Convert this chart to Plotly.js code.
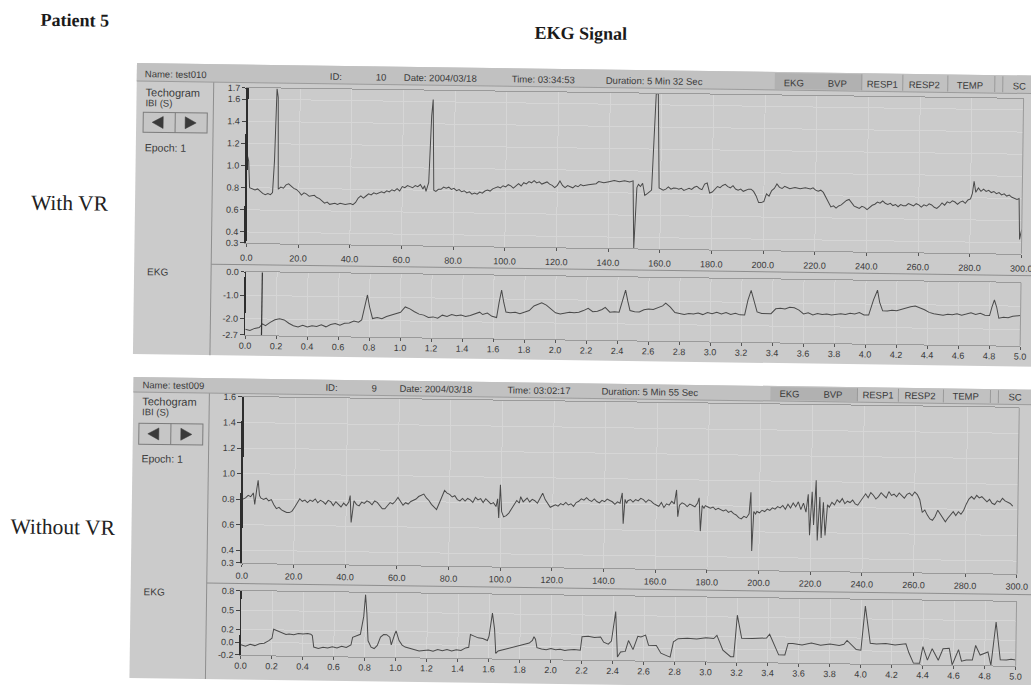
<!DOCTYPE html>
<html><head><meta charset="utf-8">
<script src="https://cdn.plot.ly/plotly-3.0.1.min.js"></script>
<style>
html,body{margin:0;padding:0;background:#fff;overflow:hidden;width:1031px;height:685px;}
#chart{position:absolute;left:0;top:0;width:1060px;height:700px;transform:rotate(0.8deg);transform-origin:130px 63px;}
</style></head>
<body><div id="chart"></div>
<script>
// ---------- DATA ----------
// Tachogram (IBI, seconds) - With VR
const tach1Time = [0,0.4,0.9,2,3,4,5,6,7,8,
9,9.8,10.4,11,11.5,12,13,14,15,16,
17,18,19,20,21,22,23,24,26,27,
28,29,30,31,32,34,35,36,38,40,
41,42,43,44,45,46,47,48,49,50,
52,53,54,55,56,57,58,59,60,61,
62,63,64,65,66,67,68,68.6,69.2,70.2,
71,71.5,72.2,73,74,75,76,77,78,79,
80,81,82,83,84,85,86,87,88,89,
90,91,92,93,94,95,96,97,98,99,
100,101,102,103,104,105,106,107,108,109,
110,111,112,113,114,115,116,117,118,119,
120,121,122,123,124,125,126,127,128,129,
130,132,134,135,136,138,140,142,144,146,
148,149.3,149.9,150.8,151.4,152.2,153,153.9,155,156.5,
157.8,158.6,159.4,160,161,162,163,164,165,166,
167,168,169,170,171,172,173,174,175,176,
177,178,179,180,181,182,183,184,185,186,
187,188,189,190,191,192,193,194,195,196,
197,198,199,200,201,202,203,204,205,206,
207,208,209,210,212,214,216,218,219,220,
221,222,223,224,225,226,227,228,229,230,
231,232,233,234,235,236,237,238,239,240,
241,242,243,244,245,246,247,248,249,250,
251,252,253,254,255,256,257,258,259,260,
261,262,263,264,265,266,267,268,269,270,
271,272,273,274,275,276,277,278,279,280,
280.7,281.3,282,283,284,285,286,287,288,289,
290,291,292,293,294,295,296,297,298,
298.8,299.2,299.6,300];
const tach1IBI = [1.08,1.04,0.80,0.79,0.78,0.79,0.77,0.75,0.74,0.75,
0.74,0.76,1.05,1.70,1.62,0.79,0.81,0.80,0.83,0.84,
0.82,0.80,0.79,0.77,0.74,0.76,0.75,0.73,0.74,0.72,
0.71,0.69,0.67,0.68,0.66,0.67,0.66,0.67,0.66,0.67,
0.66,0.68,0.72,0.74,0.72,0.74,0.76,0.75,0.77,0.76,
0.78,0.77,0.79,0.78,0.80,0.79,0.81,0.79,0.83,0.82,
0.84,0.83,0.82,0.84,0.83,0.85,0.81,0.84,0.79,0.87,
1.47,1.62,0.80,0.79,0.81,0.81,0.83,0.82,0.83,0.81,
0.82,0.80,0.81,0.79,0.80,0.78,0.79,0.77,0.78,0.77,
0.79,0.78,0.80,0.81,0.80,0.82,0.83,0.84,0.83,0.85,
0.84,0.86,0.85,0.83,0.85,0.87,0.85,0.88,0.87,0.89,
0.88,0.90,0.88,0.89,0.87,0.88,0.89,0.87,0.86,0.84,
0.86,0.90,0.86,0.84,0.86,0.85,0.84,0.86,0.85,0.87,
0.86,0.87,0.88,0.88,0.90,0.89,0.90,0.91,0.90,0.91,
0.90,0.91,0.30,0.85,0.88,0.86,0.89,0.78,0.80,0.83,
1.70,1.70,0.85,0.84,0.83,0.84,0.86,0.84,0.85,0.85,
0.84,0.85,0.83,0.84,0.85,0.84,0.86,0.87,0.85,0.84,
0.89,0.90,0.81,0.82,0.85,0.87,0.86,0.88,0.89,0.87,
0.86,0.88,0.85,0.84,0.85,0.83,0.84,0.85,0.85,0.83,
0.79,0.73,0.73,0.74,0.81,0.79,0.84,0.86,0.90,0.87,
0.86,0.88,0.87,0.86,0.87,0.86,0.87,0.86,0.87,0.85,
0.84,0.85,0.83,0.79,0.75,0.70,0.71,0.69,0.71,0.72,
0.74,0.76,0.77,0.74,0.71,0.70,0.69,0.71,0.70,0.68,
0.70,0.72,0.73,0.75,0.74,0.76,0.74,0.73,0.74,0.72,
0.73,0.71,0.73,0.72,0.72,0.74,0.73,0.72,0.74,0.73,
0.71,0.73,0.72,0.74,0.73,0.71,0.70,0.72,0.75,0.73,
0.76,0.75,0.77,0.76,0.74,0.76,0.77,0.75,0.78,0.79,
0.84,0.95,0.85,0.89,0.86,0.88,0.86,0.87,0.85,0.86,
0.84,0.85,0.83,0.84,0.82,0.83,0.81,0.80,0.79,
0.80,0.43,0.48,0.52];

// EKG - With VR
const ekg1Time = [0,0.03,0.06,0.09,0.11,0.13,0.16,0.19,0.22,0.25,
0.28,0.31,0.34,0.37,0.40,0.43,0.46,0.49,0.52,0.55,
0.58,0.61,0.64,0.67,0.70,0.73,0.75,0.77,0.785,0.80,
0.82,0.85,0.88,0.91,0.94,0.97,1.00,1.03,1.06,1.09,
1.12,1.15,1.18,1.21,1.24,1.27,1.30,1.33,1.36,1.39,
1.42,1.45,1.48,1.51,1.53,1.56,1.59,1.62,1.635,1.65,
1.665,1.68,1.71,1.74,1.77,1.80,1.83,1.86,1.89,1.91,
1.94,1.97,2.00,2.03,2.06,2.09,2.12,2.15,2.18,2.21,
2.24,2.27,2.30,2.32,2.35,2.38,2.41,2.435,2.45,2.465,
2.48,2.51,2.54,2.57,2.60,2.63,2.66,2.69,2.71,2.74,
2.77,2.80,2.83,2.86,2.89,2.92,2.95,2.98,3.01,3.04,
3.07,3.10,3.13,3.16,3.19,3.22,3.24,3.26,3.28,3.30,
3.33,3.36,3.39,3.42,3.45,3.48,3.51,3.54,3.57,3.60,
3.63,3.66,3.69,3.72,3.75,3.78,3.81,3.84,3.87,3.90,
3.93,3.96,3.99,4.02,4.05,4.075,4.09,4.11,4.14,4.17,
4.20,4.23,4.26,4.29,4.32,4.35,4.38,4.41,4.44,4.47,
4.50,4.53,4.56,4.59,4.62,4.65,4.68,4.71,4.74,4.77,
4.80,4.815,4.83,4.845,4.86,4.89,4.92,4.95,4.98,5.00];
const ekg1Value = [-2.45,-2.50,-2.41,-2.37,-2.21,-2.29,-2.14,-2.03,-1.98,-2.03,
-2.17,-2.27,-2.32,-2.25,-2.32,-2.26,-2.29,-2.22,-2.30,-2.20,
-2.15,-2.22,-2.14,-2.12,-2.03,-2.08,-1.98,-1.33,-0.91,-1.43,
-1.92,-1.87,-1.92,-1.82,-1.76,-1.71,-1.63,-1.40,-1.48,-1.60,
-1.70,-1.74,-1.84,-1.81,-1.86,-1.73,-1.78,-1.70,-1.75,-1.71,
-1.77,-1.73,-1.64,-1.58,-1.68,-1.61,-1.75,-1.80,-1.15,-0.62,
-1.15,-1.56,-1.59,-1.56,-1.62,-1.56,-1.48,-1.28,-1.20,-1.14,
-1.24,-1.42,-1.56,-1.61,-1.57,-1.53,-1.55,-1.52,-1.45,-1.35,
-1.49,-1.47,-1.39,-1.30,-1.50,-1.48,-1.50,-0.97,-0.55,-1.02,
-1.42,-1.47,-1.48,-1.38,-1.34,-1.36,-1.27,-1.20,-1.08,-1.25,
-1.48,-1.53,-1.56,-1.51,-1.53,-1.49,-1.55,-1.46,-1.51,-1.44,
-1.51,-1.45,-1.53,-1.47,-1.54,-1.54,-0.90,-0.48,-0.99,-1.40,
-1.47,-1.47,-1.47,-1.26,-1.23,-1.26,-1.18,-1.20,-1.30,-1.46,
-1.41,-1.50,-1.44,-1.47,-1.45,-1.49,-1.46,-1.43,-1.46,-1.40,
-1.43,-1.37,-1.47,-1.47,-0.82,-0.40,-0.92,-1.28,-1.29,-1.25,
-1.27,-1.20,-1.16,-1.09,-1.06,-1.12,-1.21,-1.32,-1.38,-1.40,
-1.43,-1.39,-1.41,-1.36,-1.42,-1.37,-1.31,-1.38,-1.33,-1.41,
-1.42,-1.05,-0.75,-1.05,-1.53,-1.48,-1.50,-1.44,-1.42,-1.40];
const ekg1Cursor = [0.105];

// Tachogram (IBI, seconds) - Without VR
const tach2Time = [0,1,2,3,4,4.6,5.3,5.8,6.4,7,
8,9,10,11,12,13,14,15,16,17,
18,19,20,21,22,23,24,25,26,27,
28,29,30,31,32,33,34,35,36,37,
38,39,40,41,41.5,42,42.6,43,44,45,
46,47,48,49,50,51,52,53,54,55,
56,57,58,59,60,61,62,63,64,65,
66,67,68,69,70,71,72,73,74,75,
76,77,78,79,80,81,82,83,84,85,
86,87,88,89,90,91,92,93,94,95,
96,97,98,98.6,99.1,99.6,100.2,101,102,103,
104,105,106,107,107.5,108.5,109,110,111,112,
113,114,115,116,117,118,119,120,121,122,
123,124,125,126,127,128,129,130,131,132,
133,134,135,136,137,138,139,140,141,142,
143,144,145,146,146.8,147.3,147.9,148.5,149,150,
151,152,153,154,155,156,157,158,159,160,
161,162,163,164,165,166,167,167.8,168.4,169,
170,171,172,173,174,175,176,176.6,177.2,177.8,
178.5,179,180,181,182,183,184,185,186,187,
188,189,190,191,192,193,194,195,196,196.6,
197.2,197.8,198.5,199,200,201,202,203,204,205,
206,207,208,209,210,211,212,213,214,215,
216,217,218,218.8,219.5,220.3,221,221.8,222.5,223.3,
224,224.7,225.5,226.3,227,228,229,230,231,232,
233,234,235,236,237,238,239,240,241,242,
243,244,245,246,247,248,249,250,251,252,
253,254,255,256,257,258,259,260,261,262,
263,264,265,266,267,268,269,270,271,272,
273,274,275,276,277,278,279,280,281,282,
283,284,285,286,287,288,289,290,291,292,
293,294,295,296,297,298];
const tach2IBI = [0.80,0.81,0.83,0.82,0.85,0.76,0.88,0.95,0.83,0.81,
0.80,0.81,0.79,0.80,0.76,0.73,0.74,0.72,0.71,0.70,
0.70,0.71,0.74,0.77,0.81,0.79,0.80,0.78,0.80,0.79,
0.81,0.78,0.80,0.79,0.77,0.80,0.79,0.76,0.79,0.77,
0.75,0.78,0.76,0.79,0.84,0.63,0.75,0.80,0.77,0.76,
0.79,0.78,0.80,0.79,0.77,0.80,0.79,0.76,0.74,0.74,
0.77,0.79,0.78,0.80,0.83,0.80,0.77,0.79,0.78,0.80,
0.81,0.82,0.84,0.85,0.86,0.83,0.81,0.78,0.76,0.74,
0.79,0.84,0.89,0.87,0.86,0.84,0.85,0.82,0.81,0.83,
0.81,0.83,0.82,0.80,0.84,0.82,0.83,0.80,0.83,0.81,
0.79,0.80,0.77,0.83,0.68,0.94,0.73,0.69,0.70,0.72,
0.75,0.78,0.82,0.80,0.85,0.81,0.82,0.84,0.81,0.83,
0.82,0.80,0.84,0.88,0.83,0.80,0.77,0.78,0.79,0.78,
0.80,0.79,0.81,0.79,0.80,0.78,0.81,0.82,0.84,0.83,
0.85,0.83,0.82,0.84,0.82,0.81,0.83,0.82,0.84,0.83,
0.82,0.80,0.82,0.81,0.89,0.65,0.84,0.81,0.83,0.84,
0.82,0.84,0.83,0.85,0.84,0.82,0.84,0.83,0.81,0.80,
0.79,0.82,0.78,0.81,0.80,0.83,0.81,0.92,0.71,0.80,
0.82,0.81,0.79,0.81,0.80,0.79,0.82,0.86,0.60,0.80,
0.78,0.80,0.79,0.78,0.79,0.77,0.78,0.77,0.76,0.77,
0.75,0.76,0.74,0.73,0.71,0.70,0.72,0.71,0.74,0.91,
0.45,0.76,0.74,0.76,0.75,0.77,0.76,0.78,0.77,0.79,
0.78,0.80,0.79,0.81,0.78,0.82,0.79,0.83,0.80,0.84,
0.78,0.83,0.76,0.90,0.58,0.92,0.66,1.01,0.54,0.88,
0.56,0.84,0.58,0.82,0.80,0.84,0.82,0.86,0.84,0.87,
0.83,0.85,0.84,0.86,0.83,0.82,0.85,0.89,0.91,0.88,
0.92,0.90,0.87,0.89,0.92,0.90,0.88,0.93,0.90,0.91,
0.89,0.92,0.90,0.88,0.91,0.92,0.90,0.93,0.91,0.87,
0.77,0.79,0.75,0.72,0.71,0.74,0.79,0.76,0.72,0.70,
0.73,0.76,0.78,0.75,0.78,0.76,0.79,0.84,0.88,0.90,
0.88,0.91,0.89,0.90,0.88,0.86,0.88,0.85,0.84,0.87,
0.86,0.89,0.87,0.86,0.85,0.83];

// EKG - Without VR
const ekg2Time = [0,0.03,0.06,0.09,0.12,0.15,0.18,0.20,0.21,0.23,
0.25,0.27,0.29,0.31,0.34,0.37,0.40,0.43,0.45,0.46,
0.47,0.50,0.53,0.56,0.59,0.62,0.65,0.68,0.71,0.72,
0.75,0.77,0.79,0.80,0.81,0.82,0.84,0.86,0.88,0.90,
0.92,0.94,0.96,0.97,0.99,1.00,1.02,1.04,1.06,1.09,
1.12,1.15,1.18,1.21,1.24,1.27,1.30,1.33,1.36,1.39,
1.42,1.45,1.47,1.48,1.50,1.53,1.56,1.59,1.60,1.62,
1.635,1.645,1.66,1.69,1.72,1.75,1.78,1.81,1.84,1.86,
1.88,1.89,1.90,1.91,1.94,1.97,2.00,2.03,2.06,2.09,
2.11,2.15,2.19,2.20,2.24,2.28,2.32,2.34,2.37,2.39,
2.415,2.43,2.45,2.48,2.50,2.53,2.56,2.58,2.61,2.63,
2.68,2.71,2.75,2.77,2.79,2.82,2.88,2.94,3.00,3.05,
3.07,3.11,3.16,3.18,3.20,3.23,3.30,3.39,3.41,3.47,
3.51,3.53,3.56,3.62,3.68,3.74,3.80,3.86,3.89,3.91,
3.97,4.00,4.025,4.06,4.10,4.16,4.22,4.29,4.31,4.34,
4.38,4.40,4.43,4.46,4.50,4.53,4.57,4.59,4.63,4.65,
4.68,4.72,4.74,4.77,4.82,4.84,4.87,4.90,4.94,4.97,5.00];
const ekg2Value = [-0.04,-0.06,-0.03,-0.05,-0.02,-0.01,0.03,0.07,0.21,0.19,
0.17,0.15,0.13,0.14,0.13,0.15,0.14,0.15,0.14,0.12,
-0.06,-0.08,-0.06,-0.07,-0.05,-0.07,-0.04,-0.06,-0.02,0.10,
0.13,0.15,0.43,0.77,0.48,0.05,-0.05,-0.07,-0.02,0.11,
0.15,0.15,0.11,-0.01,0.15,0.21,0.06,-0.01,-0.04,-0.06,
-0.09,-0.10,-0.09,-0.08,-0.10,-0.07,-0.09,-0.07,-0.09,-0.07,
-0.08,-0.04,-0.03,0.17,0.15,0.12,0.11,0.08,0.15,0.51,
0.26,-0.12,-0.08,-0.06,-0.04,-0.02,-0.01,0.01,0.03,0.05,
0.09,0.15,0.11,-0.02,-0.04,-0.05,-0.03,-0.05,-0.04,-0.06,
-0.05,-0.04,-0.05,0.16,0.17,0.15,0.16,0.08,0.05,0.10,
0.56,-0.15,-0.07,-0.06,0.11,-0.03,0.18,0.17,0.20,0.04,
0.04,-0.08,-0.12,-0.14,0.10,0.15,0.16,0.15,0.17,0.16,
0.21,-0.02,-0.12,-0.12,0.53,0.17,0.17,0.18,0.24,-0.08,
-0.08,0.10,0.10,0.08,0.11,0.08,0.10,0.08,0.10,0.16,
0.02,0.01,0.70,0.12,0.11,0.12,0.10,0.12,-0.02,-0.18,
-0.18,0.08,-0.13,0.05,-0.13,0.05,0.06,-0.20,0.04,-0.14,
-0.12,-0.12,0.11,-0.04,0.01,-0.20,0.48,-0.11,-0.11,-0.10,-0.11];

// Axis ranges and tick values
const tachRange = [0, 300];
const ekgRange = [0, 5];
const tach1YRange = [0.3, 1.7];
const ekg1YRange = [-2.7, 0];
const tach2YRange = [0.3, 1.6];
const ekg2YRange = [-0.2, 0.8];
const tachXTicks = [0,20,40,60,80,100,120,140,160,180,200,220,240,260,280,300];
const ekgXTicks = [0,0.2,0.4,0.6,0.8,1.0,1.2,1.4,1.6,1.8,2.0,2.2,2.4,2.6,2.8,3.0,3.2,3.4,3.6,3.8,4.0,4.2,4.4,4.6,4.8,5.0];
const tach1YTicks = [0.3,0.4,0.6,0.8,1.0,1.2,1.4,1.6,1.7];
const ekg1YTicks = [-2.7,-2.0,-1.0,0.0];
const tach2YTicks = [0.3,0.4,0.6,0.8,1.0,1.2,1.4,1.6];
const ekg2YTicks = [-0.2,0.0,0.2,0.5,0.8];

// ---------- LAYOUT HELPERS ----------
const W = 1060, H = 700;
const X = v => v / W;
const Y = v => 1 - v / H;
const SANS = 'Liberation Sans, Arial, sans-serif';
const SERIF = 'Liberation Serif, Times New Roman, serif';
const tickFont = {family: SANS, size: 9, color: '#3a3a3a'};
const LINE = '#4a4a4a';

function fmt(v){ return v.toFixed(1); }
function axX(d, range, ticks, anchor, standoff){
  return {domain: d, range: range, anchor: anchor, tickmode: 'array', tickvals: ticks, ticktext: ticks.map(fmt),
    ticks: 'outside', ticklen: 3, tickcolor: '#555', tickfont: tickFont, ticklabelstandoff: standoff,
    showgrid: true, gridcolor: '#d6d6d6', gridwidth: 1, showline: true, linecolor: '#9a9a9a', linewidth: 1,
    mirror: true, zeroline: false, fixedrange: true};
}
function axY(d, range, ticks, anchor, lw){
  return {domain: d, range: range, anchor: anchor, tickmode: 'array', tickvals: ticks, ticktext: ticks.map(fmt),
    ticks: 'outside', ticklen: 4, tickcolor: '#444', tickfont: tickFont,
    showgrid: true, gridcolor: '#d6d6d6', gridwidth: 1, showline: true, linecolor: '#2e2e2e', linewidth: lw,
    zeroline: false, fixedrange: true};
}
function rect(x0,y0,x1,y1,fill,line,layer){
  return {type:'rect', xref:'paper', yref:'paper', x0:X(x0), x1:X(x1), y0:Y(y1), y1:Y(y0),
    fillcolor: fill || 'rgba(0,0,0,0)', line:{color: line || 'rgba(0,0,0,0)', width: line ? 1 : 0}, layer: layer || 'below'};
}
function seg(x0,y0,x1,y1,color,w,layer){
  return {type:'line', xref:'paper', yref:'paper', x0:X(x0), x1:X(x1), y0:Y(y0), y1:Y(y1),
    line:{color: color, width: w || 1}, layer: layer || 'below'};
}
function tri(pts, fill){
  return {type:'path', xref:'paper', yref:'paper', layer:'above',
    path: 'M ' + pts.map(p => X(p[0]).toFixed(5) + ',' + Y(p[1]).toFixed(5)).join(' L ') + ' Z',
    fillcolor: fill, line:{color: fill, width: 0.5}};
}
function txt(x, y, s, size, opt){
  opt = opt || {};
  return {xref:'paper', yref:'paper', x: X(x), y: Y(y), text: s, showarrow: false,
    xanchor: opt.xa || 'left', yanchor: 'middle',
    font: {family: opt.fam || SANS, size: size, color: opt.color || '#3a3a3a'}};
}

// Plot-area pixel geometry (unrotated frame)
const PX0 = 249, PX1 = 1024;
const t1 = [86.4, 241.4], e1 = [270.4, 333.4], t2 = [395.4, 561.4], e2 = [589.4, 653.4];
const dX = [X(PX0), X(PX1)];

const traces = [
  {x: tach1Time, y: tach1IBI, xaxis:'x', yaxis:'y', mode:'lines', line:{color: LINE, width: 1}, hoverinfo:'skip'},
  {x: ekg1Time, y: ekg1Value, xaxis:'x2', yaxis:'y2', mode:'lines', line:{color: LINE, width: 1}, hoverinfo:'skip'},
  {x: tach2Time, y: tach2IBI, xaxis:'x3', yaxis:'y3', mode:'lines', line:{color: LINE, width: 1}, hoverinfo:'skip'},
  {x: ekg2Time, y: ekg2Value, xaxis:'x4', yaxis:'y4', mode:'lines', line:{color: LINE, width: 1}, hoverinfo:'skip'}
];

const shapes = [];
// panels
function panel(top, bottom, left, header, frameTop, ekgTop, box, tabY){
  shapes.push(rect(left, top, 1060, bottom, '#cbcbcb'));
  shapes.push(rect(left, top, 1060, header, '#c1c1c1'));
  shapes.push(seg(left, header, 1060, header, '#9c9c9c'));
  shapes.push(rect(775, tabY[0], 862, tabY[1], '#b1b1b1'));
  [862, 903, 948, 995, 1003].forEach(x => shapes.push(seg(x, tabY[0], x, tabY[1], '#9a9a9a')));
  shapes.push(seg(214, frameTop, 214, bottom, '#8e8e8e'));
  shapes.push(seg(214, ekgTop, 1060, ekgTop, '#8e8e8e'));
  shapes.push(rect(144, box[0], 208, box[1], '#c6c6c6', '#7c7c7c'));
  shapes.push(seg(176, box[0], 176, box[1], '#7c7c7c'));
  const m = (box[0] + box[1]) / 2;
  shapes.push(tri([[164, m-6], [153, m], [164, m+6]], '#3a3a3a'));
  shapes.push(tri([[186, m-6], [197, m], [186, m+6]], '#3a3a3a'));
}
panel(63, 354, 137, 81, 81, 263, [112, 132], [64, 80]);
panel(377, 678, 138, 392, 392, 582, [423, 444], [378, 391]);
// right borders of plot areas
[t1, e1, t2, e2].forEach(r => shapes.push(seg(PX1, r[0], PX1, r[1], '#9a9a9a', 1, 'above')));
// EKG cursor line
ekg1Cursor.forEach(c => shapes.push({type:'line', xref:'x2', yref:'y2', x0:c, x1:c, y0:ekg1YRange[0], y1:ekg1YRange[1], line:{color:'#333', width:1.2}, layer:'above'}));

const annotations = [
  txt(74, 21, '<b>Patient 5</b>', 18, {fam: SERIF, xa:'center', color:'#1a1a1a'}),
  txt(580, 27, '<b>EKG Signal</b>', 18, {fam: SERIF, xa:'center', color:'#1a1a1a'}),
  txt(72, 204, 'With VR', 21.5, {fam: SERIF, xa:'center', color:'#222'}),
  txt(69.5, 528, 'Without VR', 21.5, {fam: SERIF, xa:'center', color:'#222'})
];
function headerTexts(y, name, id, date, time, dur, x0){
  annotations.push(txt(x0, y, name, 9.5));
  annotations.push(txt(328, y, 'ID:', 9.5));
  annotations.push(txt(374, y, id, 9.5));
  annotations.push(txt(402, y, date, 9.5));
  annotations.push(txt(510, y, time, 9.5));
  annotations.push(txt(604, y, dur, 9.5));
  [['EKG',782],['BVP',826],['RESP1',865],['RESP2',907],['TEMP',955],['SC',1011]].forEach(t =>
    annotations.push(txt(t[1], y, t[0], 9.5)));
}
headerTexts(73.5, 'Name: test010', '10', 'Date: 2004/03/18', 'Time: 03:34:53', 'Duration: 5 Min 32 Sec', 143);
headerTexts(384, 'Name: test009', '9', 'Date: 2004/03/18', 'Time: 03:02:17', 'Duration: 5 Min 55 Sec', 145);
function sideTexts(x, yT, yI, yE, yK){
  annotations.push(txt(x, yT, 'Techogram', 11));
  annotations.push(txt(x, yI, 'IBI (S)', 9.5));
  annotations.push(txt(x, yE, 'Epoch: 1', 10.5));
  annotations.push(txt(x + 4, yK, 'EKG', 10));
}
sideTexts(143.5, 92, 102.5, 147, 271);
sideTexts(145, 401, 412, 458, 591);

const layout = {
  width: W, height: H, margin: {l:0, r:0, t:0, b:0},
  paper_bgcolor: '#ffffff', plot_bgcolor: '#ffffff', showlegend: false,
  font: {family: SANS},
  xaxis:  axX(dX, tachRange, tachXTicks, 'y', 3),
  yaxis:  axY([Y(t1[1]), Y(t1[0])], tach1YRange, tach1YTicks, 'x', 2.5),
  xaxis2: axX(dX, ekgRange, ekgXTicks, 'y2', -1),
  yaxis2: axY([Y(e1[1]), Y(e1[0])], ekg1YRange, ekg1YTicks, 'x2', 1.5),
  xaxis3: axX(dX, tachRange, tachXTicks, 'y3', 1),
  yaxis3: axY([Y(t2[1]), Y(t2[0])], tach2YRange, tach2YTicks, 'x3', 2.5),
  xaxis4: axX(dX, ekgRange, ekgXTicks, 'y4', -1),
  yaxis4: axY([Y(e2[1]), Y(e2[0])], ekg2YRange, ekg2YTicks, 'x4', 1.5),
  shapes: shapes,
  annotations: annotations
};

Plotly.newPlot('chart', traces, layout, {staticPlot: true, displayModeBar: false});
</script>
</body></html>
